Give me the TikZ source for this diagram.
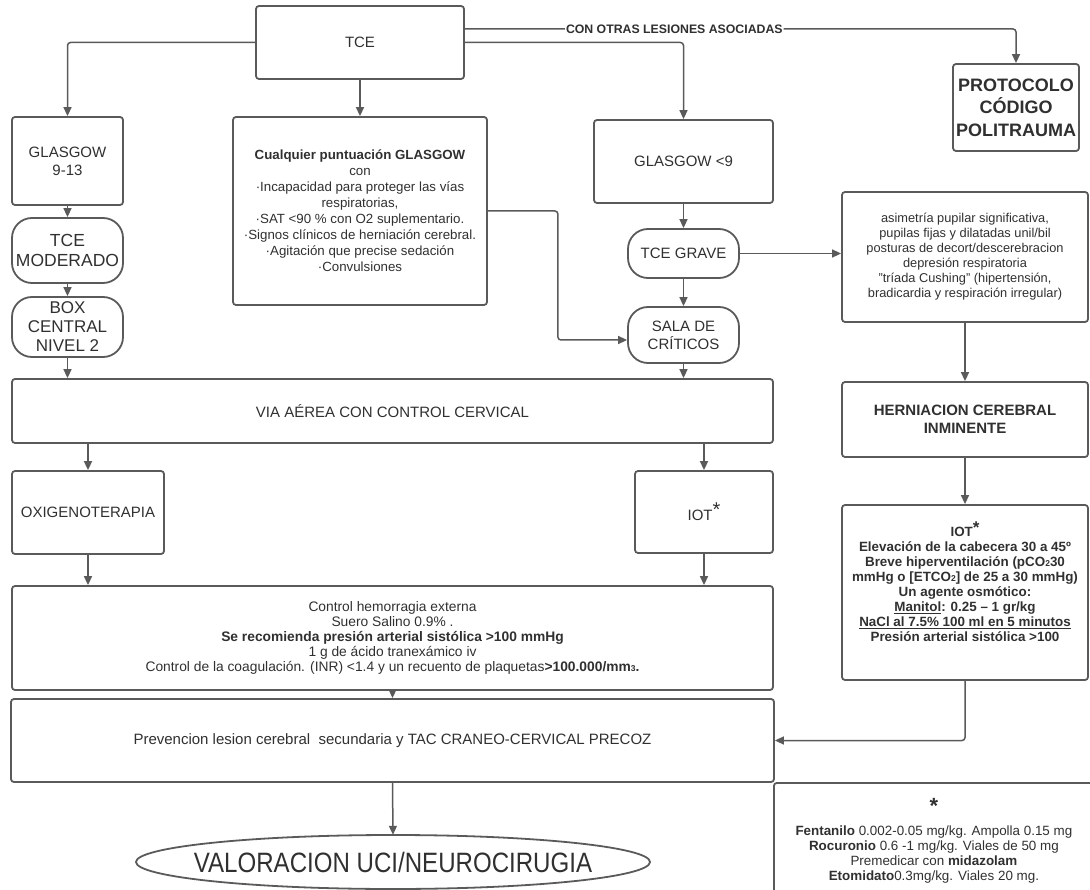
\documentclass[tikz,border=0pt]{standalone}
\usepackage{fontspec}
\setmainfont{Liberation Sans}
\usepackage{xcolor}
\usepackage{tikz}
\usetikzlibrary{arrows.meta}
\definecolor{linegray}{HTML}{5A5A5A}
\definecolor{txtgray}{HTML}{303030}
\newcommand{\subdig}[1]{{\fontsize{8.5}{8.5}\selectfont #1}}

\begin{document}
\begin{tikzpicture}[x=1pt,y=-1pt,
  box/.style={draw=linegray,line width=1.8pt,rounded corners=3pt,inner sep=0pt,align=center,text=txtgray,font=\fontsize{15}{18}\selectfont},
  pill/.style={box,rounded corners=20pt},
  wh/.style 2 args={minimum width=#1pt,minimum height=#2pt},
  small/.style={font=\fontsize{13.4}{15}\selectfont},
  conn/.style={draw=linegray,line width=1.5pt,rounded corners=3pt,-{Triangle[length=9pt,width=8pt]}}]
  \path[use as bounding box,clip] (0,0) rectangle (1090,890);
  % top row
  \node[box,wh={208}{73}] (tce) at (360,42.5) {TCE};
  \node[box,wh={126}{87},font=\bfseries\fontsize{18}{22.5}\selectfont] (prot) at (1016,107.5) {PROTOCOLO\\CÓDIGO\\POLITRAUMA};
  \node[box,wh={111}{88}] (g913) at (67.5,161) {GLASGOW\\9-13};
  \node[box,wh={254}{188},font=\fontsize{13.3}{16}\selectfont] (cual) at (360,211) {\textbf{Cualquier puntuación GLASGOW}\\con\\·Incapacidad para proteger las vías\\respiratorias,\\·SAT <90 \% con O2 suplementario.\\·Signos clínicos de herniación cerebral.\\·Agitación que precise sedación\\·Convulsiones};
  \node[box,wh={179}{83}] (g9) at (683.5,161.5) {GLASGOW <9};
  \node[box,font=\fontsize{12.8}{15}\selectfont,wh={246}{130}] (sint) at (965,257) {asimetría pupilar significativa,\\pupilas fijas y dilatadas unil/bil\\posturas de decort/descerebracion\\depresión respiratoria\\"tríada Cushing" (hipertensión,\\bradicardia y respiración irregular)};
  \node[pill,wh={111}{65},font=\fontsize{17.5}{20}\selectfont] (mod) at (67.5,250.5) {TCE\\MODERADO};
  \node[pill,wh={111}{60},font=\fontsize{17}{19}\selectfont] (central) at (67.5,327) {BOX\\CENTRAL\\NIVEL 2};
  \node[pill,wh={111}{49}] (grave) at (683.5,253.5) {TCE GRAVE};
  \node[pill,wh={111}{56}] (sala) at (683.5,335) {SALA DE\\CRÍTICOS};
  % middle
  \node[box,wh={246}{75},font=\bfseries\fontsize{15}{18}\selectfont] (hern) at (965,419.5) {HERNIACION CEREBRAL\\INMINENTE};
  \node[box,wh={761}{64}] (via) at (392.5,411) {VIA AÉREA CON CONTROL CERVICAL};
  \node[box,wh={152}{83}] (oxi) at (88,512.5) {OXIGENOTERAPIA};
  \node[box,wh={138}{82}] (iot) at (704,512) {IOT\raisebox{4pt}{\fontsize{20}{20}\selectfont *}};
  \node[box,wh={246}{175},font=\bfseries\fontsize{13.4}{15}\selectfont] (iotr) at (965,592.5) {IOT\raisebox{3pt}{\fontsize{17}{12}\selectfont *}\\Elevación de la cabecera 30 a 45º\\Breve hiperventilación (pCO\subdig{2}30\\mmHg o [ETCO\subdig{2}] de 25 a 30 mmHg)\\Un agente osmótico:\\\underline{Manitol}: 0.25 – 1 gr/kg\\\underline{NaCl al 7.5\% 100 ml en 5 minutos}\\Presión arterial sistólica >100\\[6pt]};
  \node[box,font=\fontsize{13.8}{15}\selectfont,wh={761}{104}] (ctrl) at (392.5,638) {Control hemorragia externa\\Suero Salino 0.9\% .\\\textbf{Se recomienda presión arterial sistólica >100 mmHg}\\1 g de ácido tranexámico iv\\Control de la coagulación. (INR) <1.4 y un recuento de plaquetas\textbf{>100.000/mm\subdig{3}.}};
  % bottom
  \node[box,wh={763}{83},font=\fontsize{15}{18}\selectfont] (prev) at (392.5,740.5) {Prevencion lesion cerebral\ \ secundaria y TAC CRANEO-CERVICAL PRECOZ};
  \node[box,small,wh={320}{115},anchor=north west] (farm) at (773,782) {{\bfseries\fontsize{22}{22}\selectfont *}\\[7pt]\textbf{Fentanilo} 0.002-0.05 mg/kg. Ampolla 0.15 mg\\\textbf{Rocuronio} 0.6 -1 mg/kg. Viales de 50 mg\\Premedicar con \textbf{midazolam}\\\textbf{Etomidato}0.3mg/kg. Viales 20 mg.};
  \node[inner sep=0pt,wh={514}{54},text=txtgray,font=\fontsize{28}{30}\selectfont] (uci) at (393,862) {\scalebox{0.86}[1]{VALORACION UCI/NEUROCIRUGIA}};
  \draw[linegray,line width=1.8pt] (uci.center) ellipse [x radius=257, y radius=27];
  % connectors
  \draw[conn] (tce.west) -| (g913.north);
  \draw[conn] (tce.south) -- (cual.north);
  \draw[conn] (tce.east) -| (g9.north);
  \draw[conn] ([yshift=13.5pt]tce.east) -| node[pos=0.19,fill=white,inner sep=1pt,text=txtgray,font=\bfseries\fontsize{12.3}{14}\selectfont] {CON OTRAS LESIONES ASOCIADAS} (prot.north);
  \draw[conn] (g913.south) -- (mod.north);
  \draw[conn] (mod.south) -- (central.north);
  \draw[conn] (central.south) -- (central.south |- via.north);
  \draw[conn] (g9.south) -- (grave.north);
  \draw[conn] (grave.south) -- (sala.north);
  \draw[conn] (sala.south) -- (sala.south |- via.north);
  \draw[conn] (cual.east) -- ++(70,0) |- ([yshift=-5pt]sala.west);
  \draw[conn] (grave.east) -- (grave.east -| sint.west);
  \draw[conn] (sint.south) -- (hern.north);
  \draw[conn] (hern.south) -- (iotr.north);
  \draw[conn] (iotr.south) |- (prev.east);
  \draw[conn] (oxi.north |- via.south) -- (oxi.north);
  \draw[conn] (iot.north |- via.south) -- (iot.north);
  \draw[conn] (oxi.south) -- (oxi.south |- ctrl.north);
  \draw[conn] (iot.south) -- (iot.south |- ctrl.north);
  \draw[conn] (ctrl.south) -- (prev.north);
  \draw[conn] (prev.south) -- (uci.north);
\end{tikzpicture}
\end{document}
